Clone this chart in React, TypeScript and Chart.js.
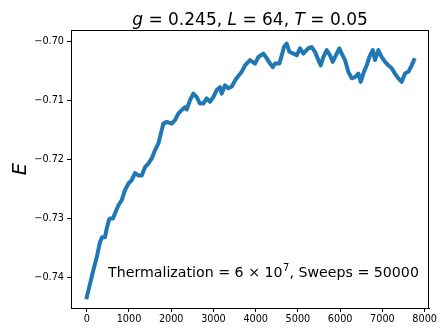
import React, { useEffect, useRef } from "react";
import { Chart, registerables } from "chart.js";

Chart.register(...registerables);

// Monte Carlo step (x) and energy E (y)
const steps = [
  0, 78, 156, 237, 315, 362, 433, 473, 528, 552,
  623, 670, 748, 828, 907, 985, 1065, 1143, 1221, 1302,
  1380, 1458, 1539, 1617, 1695, 1775, 1813, 1894, 2012, 2090,
  2168, 2249, 2327, 2367, 2445, 2523, 2604, 2682, 2760, 2840,
  2918, 2997, 3077, 3155, 3195, 3274, 3352, 3432, 3534, 3669,
  3747, 3865, 3984, 4062, 4180, 4261, 4339, 4403, 4457, 4559,
  4616, 4670, 4734, 4796, 4890, 4971, 5049, 5127, 5245, 5326,
  5404, 5482, 5539, 5600, 5681, 5759, 5823, 5877, 5979, 6036,
  6114, 6192, 6273, 6351, 6429, 6486, 6547, 6628, 6689, 6770,
  6824, 6902, 6983, 7061, 7139, 7219, 7297, 7376, 7456, 7534,
  7612, 7693, 7747,
];

const energy = [
  -0.7434, -0.7411, -0.7388, -0.7366, -0.734, -0.7332, -0.7332, -0.7317, -0.7302, -0.73,
  -0.73, -0.7291, -0.7278, -0.7269, -0.7252, -0.7241, -0.7235, -0.7223, -0.7227, -0.7227,
  -0.7213, -0.7207, -0.7198, -0.7184, -0.7173, -0.715, -0.7139, -0.7136, -0.7139, -0.7133,
  -0.7122, -0.7116, -0.7111, -0.7115, -0.7099, -0.7088, -0.7094, -0.7105, -0.7105, -0.7096,
  -0.7102, -0.7094, -0.7082, -0.7077, -0.7088, -0.7074, -0.7079, -0.7076, -0.7063, -0.7051,
  -0.704, -0.7031, -0.7037, -0.7026, -0.702, -0.7028, -0.7037, -0.7043, -0.7037, -0.7037,
  -0.7023, -0.7009, -0.7003, -0.7017, -0.702, -0.7023, -0.7011, -0.702, -0.7011, -0.7009,
  -0.7017, -0.7031, -0.704, -0.7026, -0.7014, -0.7023, -0.7034, -0.7026, -0.7011, -0.702,
  -0.7031, -0.7051, -0.7062, -0.706, -0.7054, -0.7068, -0.7054, -0.704, -0.7026, -0.7014,
  -0.7031, -0.7014, -0.7026, -0.7034, -0.704, -0.7045, -0.7054, -0.7062, -0.7068, -0.7054,
  -0.7051, -0.704, -0.7031,
];

const xTicks = [0, 1000, 2000, 3000, 4000, 5000, 6000, 7000, 8000];
const yTicks = [-0.74, -0.73, -0.72, -0.71, -0.7];

const FONT = "'DejaVu Sans', sans-serif";

const decorPlugin = {
  id: "decor",
  afterDraw(chart: any) {
    const { ctx, chartArea } = chart;
    const { left, right, top, bottom } = chartArea;
    ctx.save();
    // frame (all four spines)
    ctx.strokeStyle = "#000";
    ctx.lineWidth = 1;
    ctx.strokeRect(Math.round(left) + 0.5, Math.round(top) + 0.5, Math.round(right - left) - 1, Math.round(bottom - top));

    // title with italic symbols
    const parts: [string, boolean][] = [
      ["g", true], [" = 0.245, ", false], ["L", true], [" = 64, ", false], ["T", true], [" = 0.05", false],
    ];
    const size = 17;
    let total = 0;
    for (const [t, it] of parts) {
      ctx.font = `${it ? "italic " : ""}${size}px ${FONT}`;
      total += ctx.measureText(t).width;
    }
    let x = (left + right) / 2 - total / 2;
    ctx.fillStyle = "#000";
    ctx.textBaseline = "alphabetic";
    ctx.textAlign = "left";
    for (const [t, it] of parts) {
      ctx.font = `${it ? "italic " : ""}${size}px ${FONT}`;
      ctx.fillText(t, x, 25);
      x += ctx.measureText(t).width;
    }

    // annotation
    const aSize = 14.2;
    let ax = 108;
    const ay = 276.5;
    ctx.font = `${aSize}px ${FONT}`;
    const s1 = "Thermalization = 6 × 10";
    ctx.fillText(s1, ax, ay);
    ax += ctx.measureText(s1).width;
    ctx.font = `${aSize * 0.7}px ${FONT}`;
    ctx.fillText("7", ax + 0.5, ay - 6);
    ax += ctx.measureText("7").width + 0.5;
    ctx.font = `${aSize}px ${FONT}`;
    ctx.fillText(", Sweeps = 50000", ax, ay);

    // y label
    ctx.translate(19, (top + bottom) / 2);
    ctx.rotate(-Math.PI / 2);
    ctx.font = `italic 19.5px ${FONT}`;
    ctx.textAlign = "center";
    ctx.fillText("E", 0, 7);
    ctx.restore();
  },
};

export default function App() {
  const ref = useRef<HTMLCanvasElement>(null);
  useEffect(() => {
    const canvas = ref.current!;
    const chart = new Chart(canvas, {
      type: "line",
      data: {
        datasets: [
          {
            data: steps.map((s, i) => ({ x: s, y: energy[i] })),
            borderColor: "#1f77b4",
            backgroundColor: "#1f77b4",
            borderWidth: 4,
            pointRadius: 0,
            tension: 0,
            borderJoinStyle: "round",
            borderCapStyle: "square",
          },
        ],
      },
      options: {
        animation: false,
        responsive: false,
        devicePixelRatio: 1,
        layout: { padding: { top: 30, right: 19, left: 0, bottom: 0 } },
        plugins: { legend: { display: false }, title: { display: false }, tooltip: { enabled: false } },
        scales: {
          x: {
            type: "linear",
            min: -372,
            max: 8102,
            afterBuildTicks: (s: any) => {
              s.ticks = xTicks.map((v) => ({ value: v }));
            },
            afterFit: (s: any) => {
              s.height = 28;
            },
            grid: { drawOnChartArea: false, drawTicks: true, tickLength: 4, tickColor: "#000", tickWidth: 1 },
            border: { color: "#000", width: 1 },
            ticks: {
              color: "#000",
              font: { family: FONT, size: 9.7 },
              padding: 2,
              maxRotation: 0,
              autoSkip: false,
              callback: (v: any) => String(v),
            },
          },
          y: {
            type: "linear",
            min: -0.7452,
            max: -0.698,
            afterBuildTicks: (s: any) => {
              s.ticks = yTicks.map((v) => ({ value: v }));
            },
            afterFit: (s: any) => {
              s.width = 71;
            },
            grid: { drawOnChartArea: false, drawTicks: true, tickLength: 4, tickColor: "#000", tickWidth: 1 },
            border: { color: "#000", width: 1 },
            ticks: {
              color: "#000",
              font: { family: FONT, size: 9.7 },
              padding: 3,
              autoSkip: false,
              callback: (v: any) => "\u2212" + Math.abs(Number(v)).toFixed(2),
            },
          },
        },
      },
      plugins: [decorPlugin],
    });
    return () => chart.destroy();
  }, []);
  return (
    <div style={{ position: "absolute", left: 0, top: 0, width: 448, height: 336, background: "#fff" }}>
      <canvas ref={ref} width={448} height={336} style={{ width: 448, height: 336, display: "block" }} />
    </div>
  );
}
